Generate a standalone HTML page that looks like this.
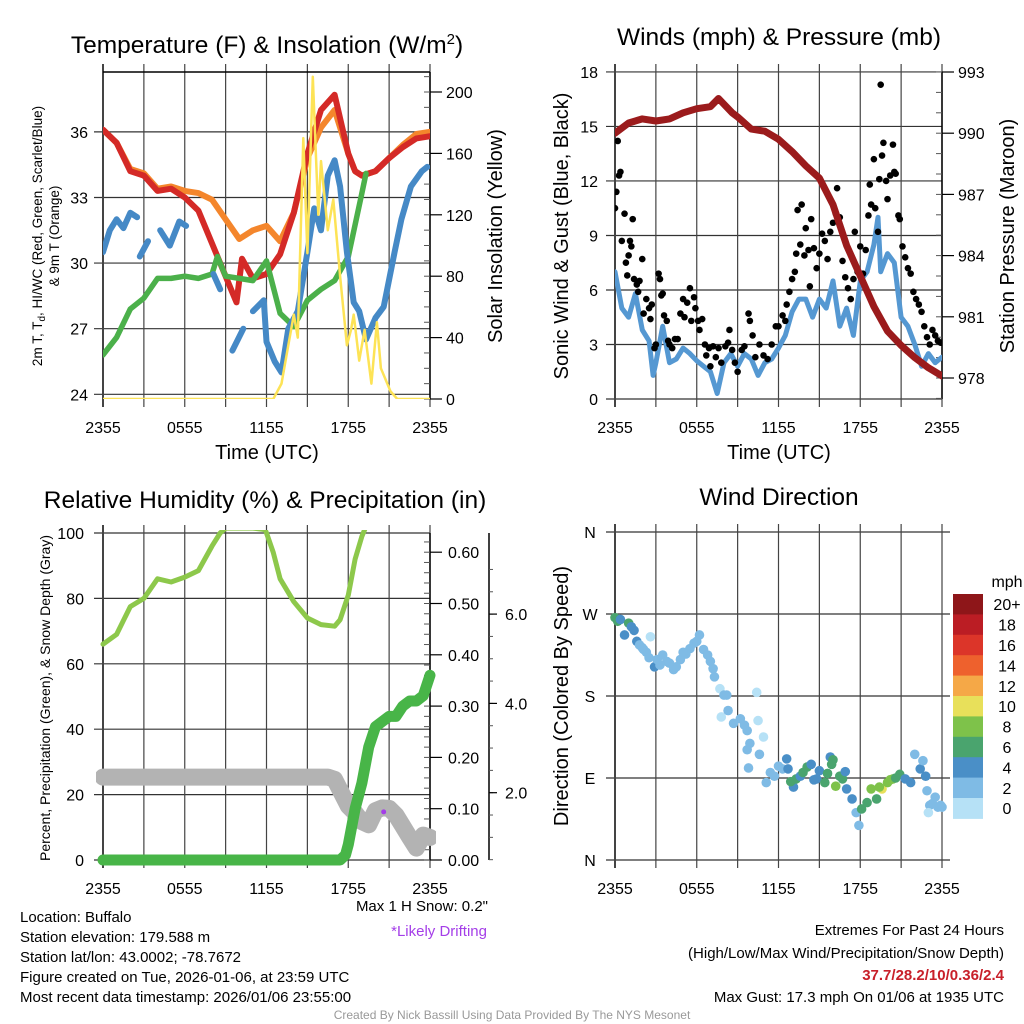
<!DOCTYPE html>
<html><head><meta charset="utf-8"><title>Mesonet Station Meteogram</title>
<style>
html,body{margin:0;padding:0;background:#fff;}
svg{display:block;font-family:"Liberation Sans",Arial,sans-serif;}
.tk{font-size:16px;fill:#000;}
.ttl{font-size:24.5px;fill:#000;}
.axt{font-size:20px;fill:#000;}
.info{font-size:15px;fill:#000;}
</style></head>
<body>
<svg id="chart" width="1024" height="1024" viewBox="0 0 1024 1024">
<defs>
<clipPath id="c1"><rect x="103" y="72" width="327" height="327"/></clipPath>
<clipPath id="c2"><rect x="615" y="72" width="327" height="327"/></clipPath>
<clipPath id="c3"><rect x="96" y="528" width="340" height="340"/></clipPath>
<clipPath id="c4"><rect x="608" y="526" width="341" height="341"/></clipPath>
</defs>
<rect width="1024" height="1024" fill="#fff"/>

<text class="ttl" x="267" y="53" text-anchor="middle">Temperature (F) &amp; Insolation (W/m<tspan dy="-9" font-size="15">2</tspan><tspan dy="9">)</tspan></text>
<text class="ttl" x="779" y="45" text-anchor="middle">Winds (mph) &amp; Pressure (mb)</text>
<text class="ttl" x="265" y="508" text-anchor="middle">Relative Humidity (%) &amp; Precipitation (in)</text>
<text class="ttl" x="779" y="505" text-anchor="middle">Wind Direction</text>

<g id="g1"></g>
<g id="g2"></g>
<g id="g3"></g>
<g id="g4"></g>

<text class="axt" x="267" y="459" text-anchor="middle">Time (UTC)</text>
<text class="axt" x="779" y="459" text-anchor="middle">Time (UTC)</text>
<text font-size="13.5" transform="translate(42,236) rotate(-90)" text-anchor="middle">2m T, T<tspan font-size="10" dy="3">d</tspan><tspan dy="-3">, HI/WC (Red, Green, Scarlet/Blue)</tspan></text>
<text font-size="13.5" transform="translate(59,236) rotate(-90)" text-anchor="middle">&amp; 9m T (Orange)</text>
<text class="axt" transform="translate(502,236) rotate(-90)" text-anchor="middle">Solar Insolation (Yellow)</text>
<text class="axt" transform="translate(568,236) rotate(-90)" text-anchor="middle">Sonic Wind &amp; Gust (Blue, Black)</text>
<text class="axt" transform="translate(1014,236) rotate(-90)" text-anchor="middle">Station Pressure (Maroon)</text>
<text font-size="14" transform="translate(50,698) rotate(-90)" text-anchor="middle">Percent, Precipitation (Green), &amp; Snow Depth (Gray)</text>
<text class="axt" transform="translate(568,696) rotate(-90)" text-anchor="middle">Direction (Colored By Speed)</text>

<g>
<text class="info" x="20" y="922">Location: Buffalo</text>
<text class="info" x="20" y="942">Station elevation: 179.588 m</text>
<text class="info" x="20" y="962">Station lat/lon: 43.0002; -78.7672</text>
<text class="info" x="20" y="982">Figure created on Tue, 2026-01-06, at 23:59 UTC</text>
<text class="info" x="20" y="1002">Most recent data timestamp: 2026/01/06 23:55:00</text>
</g>
<text class="info" x="488" y="911" text-anchor="end" fill="#333">Max 1 H Snow: 0.2"</text>
<text class="info" x="487" y="936" text-anchor="end" style="fill:#a43ee8">*Likely Drifting</text>
<g>
<text class="info" x="1004" y="935" text-anchor="end">Extremes For Past 24 Hours</text>
<text class="info" x="1004" y="958" text-anchor="end">(High/Low/Max Wind/Precipitation/Snow Depth)</text>
<text class="info" x="1004" y="980" text-anchor="end" font-weight="bold" style="fill:#c8202a">37.7/28.2/10/0.36/2.4</text>
<text class="info" x="1004" y="1002" text-anchor="end">Max Gust: 17.3 mph On 01/06 at 1935 UTC</text>
</g>
<text x="512" y="1019" font-size="12" text-anchor="middle" fill="#999">Created By Nick Bassill Using Data Provided By The NYS Mesonet</text>
</svg>

<script>
// ===== Panel 1 data =====
const redT = [0,1,2,3,4,5,6,7,8,9,9.8,10.2,11,12,13,14,15,16,17,18,18.5,19,20,21,22,23,24];
const redV = [36.1,35.5,34.2,34.0,33.3,33.4,33.0,32.4,30.9,29.4,28.2,30.2,29.3,29.5,30.4,32.3,35.0,37.0,37.7,35.0,34.2,34.0,34.2,34.8,35.3,35.7,35.8];
const orgT = [0,1,2,3,4,5,6,7,8,9,10,11,12,13,14,15,16,17,18,18.5,19,20,21,22,23,24];
const orgV = [36.1,35.5,34.3,34.1,33.4,33.5,33.3,33.2,32.9,32.0,31.1,31.5,31.7,31.0,32.3,34.8,36.2,37.0,35.0,34.2,34.0,34.2,34.8,35.4,35.9,36.0];
const dewT = [0,1,2,3,4,5,6,7,8,8.4,9,10,11,12,13,14,15,16,17,18,19,19.3];
const dewV = [25.8,26.6,27.9,28.4,29.3,29.3,29.4,29.3,29.5,30.3,29.4,29.3,29.2,30.1,27.7,27.1,28.3,28.8,29.2,30.3,33.2,34.1];
const wcT = [0,0.5,1,1.5,2,2.5,2.6,2.7,3.3,3.4,4.2,4.9,5.6,6.1,6.2,8.1,8.6,8.7,9.5,10.3,10.4,11.0,11.8,12.0,12.6,13.1,13.6,14.3,15.0,15.5,16.0,16.5,17.0,17.4,17.9,18.4,18.8,19.3,20.0,20.6,21.4,21.9,22.6,23.4,23.8];
const wcV = [30.5,31.5,32.0,31.6,32.3,32.1,null,30.3,31.0,null,31.5,30.8,31.9,31.7,null,29.5,28.8,null,26.0,27.0,null,27.8,28.3,26.4,25.5,25.0,27.0,27.8,30.5,32.5,31.5,34.0,34.7,33.5,30.5,28.2,27.8,26.5,27.5,28.0,30.5,32.0,33.5,34.2,34.4];
const solT = [0,12.5,13.1,13.6,14.0,14.3,14.7,15.0,15.4,15.8,16.0,16.5,16.9,17.4,17.9,18.2,18.4,18.8,19.2,19.7,20.1,20.4,21.1,21.6,24];
const solV = [0,0,10,35,55,40,170,95,210,120,155,110,130,80,35,45,55,25,45,10,50,20,5,0,0];
const p1LeftTicks = [24,27,30,33,36];
const p1RightTicks = [0,40,80,120,160,200];
const timeLabels = ["2355","0555","1155","1755","2355"];

// ===== Panel 2 data =====
const presT = [0,1,2,3,4,5,6,7,7.6,8.6,9,10,11,12,13,14,15,16,17,18,19,20,21,22,23,24];
const presV = [990.0,990.5,990.7,990.6,990.7,991.0,991.2,991.3,991.7,991.0,990.8,990.2,990.1,989.7,989.1,988.4,987.8,986.5,984.5,983.0,981.5,980.3,979.6,979.0,978.5,978.1];
const windT = [0,0.5,1,1.5,2,2.5,2.8,3,3.5,4,4.5,5,5.5,6,6.5,7,7.5,8,8.5,9,9.5,10,10.5,11,11.5,12,12.5,13,13.5,14,14.5,15,15.5,16,16.5,17,17.5,18,18.5,19,19.3,19.5,20,20.5,21,21.5,22,22.5,23,23.5,24];
const windV = [7.0,5.0,4.5,5.8,3.8,3.2,1.3,2.0,4.0,2.0,2.2,2.8,2.5,2.1,1.8,1.5,0.3,2.0,2.5,1.8,2.5,2.2,1.3,2.0,2.2,2.8,3.5,4.8,5.5,5.5,4.5,5.5,5.0,6.5,4.0,5.0,3.5,6.5,7.0,8.5,10.0,7.0,8.0,7.5,4.5,4.0,3.0,1.8,2.5,2.0,2.3];
const gustT = [0,0.1,0.2,0.3,0.4,0.5,0.7,0.8,0.9,1.0,1.1,1.2,1.3,1.4,1.6,1.7,1.8,2.0,2.1,2.3,2.5,2.6,2.7,2.9,3.0,3.2,3.3,3.4,3.5,3.6,3.8,3.9,4.0,4.2,4.4,4.6,4.8,5.0,5.1,5.3,5.5,5.6,5.8,5.9,6.1,6.2,6.4,6.6,6.7,6.9,7.0,7.2,7.4,7.6,7.8,8.1,8.3,8.4,8.6,8.8,9.0,9.3,9.5,9.8,9.9,10.1,10.3,10.6,10.9,11.2,11.5,11.8,12.0,12.3,12.5,12.6,12.8,13.0,13.2,13.3,13.4,13.6,13.7,13.9,14.0,14.2,14.3,14.4,14.6,14.8,15.0,15.2,15.4,15.6,15.8,16.0,16.2,16.3,16.5,16.7,16.9,17.1,17.3,17.5,17.6,17.8,18.0,18.2,18.4,18.6,18.7,18.8,19.0,19.1,19.3,19.4,19.5,19.6,19.7,19.9,20.0,20.2,20.4,20.5,20.6,20.8,20.9,21.1,21.3,21.5,21.7,21.9,22.1,22.3,22.5,22.7,22.9,23.1,23.3,23.5,23.7,23.9];
const gustV = [10.5,11.4,14.2,12.3,12.5,8.7,10.2,7.5,6.8,7.9,8.7,8.4,9.9,6.6,6.3,5.9,6.5,7.7,4.7,5.5,5.0,4.4,5.2,2.8,3.0,6.9,6.6,5.7,5.8,4.6,4.3,3.2,3.0,2.8,3.3,3.3,4.7,5.5,4.5,5.3,6.1,4.3,5.6,5.0,4.3,3.8,4.4,3.0,2.4,2.8,1.8,2.9,2.3,2.8,2.0,2.9,3.1,3.8,2.7,2.0,1.5,2.7,2.9,4.7,4.3,3.5,2.3,3.0,2.4,2.2,3.0,4.0,4.0,4.6,4.3,5.2,5.9,6.6,7.0,8.0,10.4,8.5,10.7,7.9,9.4,8.2,6.2,9.9,8.3,7.2,8.0,9.1,8.7,7.7,9.2,9.7,10.2,11.6,10.0,7.6,6.7,6.1,5.5,6.6,9.2,7.0,8.4,6.9,8.2,10.1,11.8,10.7,13.2,10.5,9.2,12.1,17.3,13.4,14.1,12.0,11.0,12.3,14.0,12.5,12.4,10.1,9.9,8.4,7.8,7.2,6.9,5.9,5.5,5.2,4.8,4.0,3.4,3.0,3.8,3.5,3.2,3.1];
const p2LeftTicks = [0,3,6,9,12,15,18];
const p2RightTicks = [978,981,984,987,990,993];

// ===== Panel 3 data =====
const rhT = [0,1,2,3,4,5,6,7,8,8.6,9,10,11,11.9,12,12.5,13,14,15,16,17,17.4,18,18.5,19,19.5,24];
const rhV = [66,69,77.5,80,86,85,86.5,88.5,96,100,101.5,101.5,101.5,101,100,94,86,79,74,72,71.5,73.5,81,92,99,104,104];
const precT = [0,17.4,17.8,18,18.5,19,19.5,20,20.5,21,21.5,22,22.5,23,23.5,24];
const precV = [0,0,0.01,0.03,0.10,0.15,0.22,0.26,0.27,0.28,0.28,0.30,0.31,0.31,0.32,0.36];
const snowT = [0,16.5,17,17.5,18,18.5,19,19.5,20,20.5,21,21.5,22,22.5,23,23.5,24];
const snowV = [2.35,2.35,2.3,2.0,1.7,1.55,1.35,1.28,1.6,1.66,1.65,1.5,1.25,1.0,0.76,1.05,1.0];
const driftT = [20.6];
const driftV = [1.57];
const p3LeftTicks = [0,20,40,60,80,100];
const p3PrecTicks = [0,0.1,0.2,0.3,0.4,0.5,0.6];
const p3PrecLabels = ["0.00","0.10","0.20","0.30","0.40","0.50","0.60"];
const p3SnowTicks = [2,4,6];
const p3SnowLabels = ["2.0","4.0","6.0"];

// ===== Panel 4 data =====
const dirT = [0,0.2,0.4,0.7,1,1.2,1.6,1.8,2.1,2.3,2.6,2.9,3.1,3.5,3.8,4.3,4.5,4.8,5.2,5.5,5.8,6.2,6.5,6.8,7,7.3,7.7,8,8.2,7.8,8.3,8.7,9.2,9.5,9.7,10.4,10.5,9.9,9.7,10.6,10.9,9.8,11.1,11.4,11.7,12.0,12.3,12.6,12.7,13.1,13.3,13.6,14.1,14.4,14.8,15.0,15.4,15.8,15.9,16.2,16.5,16.7,16.9,17.0,17.4,17.7,17.9,18.1,18.5,18.8,19.2,19.6,20.0,20.4,20.9,21.3,21.7,22.0,22.4,22.6,22.8,22.9,23.1,23.5,23.7,23.0,24.0,1.4,2.0,2.5,3.3,4.0,5.0,6.0,7.2,12.9,13.8,14.6,15.6,16.0,19.4,20.2,20.6,23.3,23.9];
const dirV = [266,262,264,247,260,256,240,236,231,228,245,212,220,225,218,209,212,220,226,232,238,247,231,225,218,201,188,181,181,157,164,150,155,148,142,184,153,128,121,116,135,101,85,96,92,103,100,111,100,80,89,92,102,105,89,98,85,113,105,81,92,89,97,78,67,52,38,56,63,78,67,78,85,89,94,89,85,116,100,109,92,76,60,69,58,52,58,252,233,222,214,216,228,240,210,86,96,88,95,110,80,88,90,62,60];
const dirS = [6,6,4,4,6,4,4,3,2,2,1,4,2,2,2,2,2,2,2,2,2,2,2,2,2,2,1,2,2,1,2,2,3,2,2,1,1,2,2,2,1,2,2,2,2,2,3,4,4,4,6,5,6,4,4,4,6,4,6,8,6,6,4,4,4,2,2,6,6,8,6,10,8,8,6,4,4,2,4,2,4,2,2,2,2,0,2,4,2,2,2,2,2,2,2,6,6,4,6,6,8,8,6,2,2];
const speedBinLabels = ["0","2","4","6","8","10","12","14","16","18","20+"];
const speedBinColors = ["#b6e1f6","#7fbbe5","#4a8fc7","#4aa46e","#7ec24a","#e8e05a","#f5a847","#ee612d","#dc3529","#bb1d24","#8e1619"];
const dirTicks = [0,90,180,270,360];
const dirLabels = ["N","E","S","W","N"];

const NS = "http://www.w3.org/2000/svg";
function mk(tag, attrs, parent){const e=document.createElementNS(NS,tag);for(const k in attrs)e.setAttribute(k,attrs[k]);parent.appendChild(e);return e;}
function pathD(ts, vs, fx, fy){let d="",pen=false;for(let i=0;i<ts.length;i++){if(vs[i]===null){pen=false;continue;}d+=(pen?"L":"M")+fx(ts[i]).toFixed(1)+","+fy(vs[i]).toFixed(1);pen=true;}return d;}

function frame(g, x0, y0, w, h, withTimeLabels){
  const xs = t => x0 + t*w/24;
  for(let t=0;t<=24;t+=3){
    const l = mk("line",{x1:xs(t),x2:xs(t),y1:y0-8,y2:y0+h+8,stroke:"#444","stroke-width":(t===0?2:1.2)},g);
    
    
  }
  if(withTimeLabels){
    for(let i=0;i<timeLabels.length;i++){
      const tx = mk("text",{x:xs(i*6),y:y0+h+34,"text-anchor":"middle",class:"tk"},g);
      tx.textContent = timeLabels[i];
      
      
    }
  }
  return xs;
}
function hgrid(g, x0, w, y, label, lx){
  const l = mk("line",{x1:x0-9,x2:x0+w,y1:y,y2:y,stroke:"#333","stroke-width":1.2},g);
  
  
  if(label!==null){
    const tx = mk("text",{x:lx,y:y+6,"text-anchor":"end",class:"tk"},g);
    tx.textContent = label;
    
    
  }
}
function rightAxis(g, x, yTop, yBot, ticks, labels, fy, minorStep, lo, hi, lx, outward){
  const ax = mk("line",{x1:x,x2:x,y1:yTop,y2:yBot,stroke:"#000","stroke-width":1.5},g);
  
  
  for(let v=lo; v<=hi+1e-9; v+=minorStep){
    const y=fy(v); if(y<yTop-0.5||y>yBot+0.5) continue;
    mk("line",{x1:x-(outward?0:6),x2:x+(outward?6:0),y1:y,y2:y,stroke:"#555","stroke-width":1},g);
  }
  for(let i=0;i<ticks.length;i++){
    const y=fy(ticks[i]);
    mk("line",{x1:x,x2:x+12,y1:y,y2:y,stroke:"#000","stroke-width":1.2},g);
    const tx = mk("text",{x:lx,y:y+6,"text-anchor":"start",class:"tk"},g);
    tx.textContent = labels[i];
    
    
  }
}

// ===== Panel 1 =====
(function(){
  const g=document.getElementById("g1");
  const X0=103,Y0=72,W=327,H=327;
  const fy = v => 394.3 - (v-24)*21.87;
  const fs = v => 399 - v*1.535;
  p1LeftTicks.forEach(v=>hgrid(g,X0,W,fy(v),String(v),88));
  const xs = frame(g,X0,Y0,W,H,true);
  mk("line",{x1:X0,x2:X0+W,y1:Y0,y2:Y0,stroke:"#000","stroke-width":1.5},g);
  rightAxis(g,X0+W,Y0,Y0+H,p1RightTicks,p1RightTicks.map(String),fs,10,0,210,446,false);
  const c=mk("g",{"clip-path":"url(#c1)"},g);
  const s1=mk("path",{d:pathD(orgT,orgV,xs,fy),fill:"none",stroke:"#f4862c","stroke-width":6,"stroke-linejoin":"round","stroke-linecap":"round"},c);
  
  
  const s2=mk("path",{d:pathD(redT,redV,xs,fy),fill:"none",stroke:"#d42a27","stroke-width":6,"stroke-linejoin":"round","stroke-linecap":"round"},c);
  
  
  const s3=mk("path",{d:pathD(dewT,dewV,xs,fy),fill:"none",stroke:"#4bb04a","stroke-width":5.5,"stroke-linejoin":"round","stroke-linecap":"round"},c);
  
  
  const s4=mk("path",{d:pathD(wcT,wcV,xs,fy),fill:"none",stroke:"#4589c6","stroke-width":6,"stroke-linejoin":"round","stroke-linecap":"round"},c);
  
  
  const s5=mk("path",{d:pathD(solT,solV,xs,fs),fill:"none",stroke:"#fde356","stroke-width":2.5,"stroke-linejoin":"round"},c);
  
  
})();

// ===== Panel 2 =====
(function(){
  const g=document.getElementById("g2");
  const X0=615,Y0=72,W=327,H=327;
  const fy = v => 399 - v*18.17;
  const fp = v => 378 - (v-978)*20.4;
  p2LeftTicks.forEach(v=>hgrid(g,X0,W,fy(v),String(v),598));
  const xs = frame(g,X0,Y0,W,H,true);
  rightAxis(g,X0+W,Y0,Y0+H,p2RightTicks,p2RightTicks.map(String),fp,1,977,993,958,false);
  const c=mk("g",{"clip-path":"url(#c2)"},g);
  const w=mk("path",{d:pathD(windT,windV,xs,fy),fill:"none",stroke:"#5598d2","stroke-width":5,"stroke-linejoin":"round","stroke-linecap":"round"},c);
  
  
  for(let i=0;i<gustT.length;i++){
    const d=mk("circle",{cx:xs(gustT[i]),cy:fy(gustV[i]),r:3.3,fill:"#000"},c);
    
    
  }
  const p=mk("path",{d:pathD(presT,presV,xs,fp),fill:"none",stroke:"#9b1b1c","stroke-width":7,"stroke-linejoin":"round","stroke-linecap":"round"},c);
  
  
})();

// ===== Panel 3 =====
(function(){
  const g=document.getElementById("g3");
  const X0=103,Y0=533,W=327,H=327;
  const fy = v => 860 - v*3.27;
  const fpr = v => 860 - v*513;
  const fsn = v => 882 - v*44.65;
  p3LeftTicks.forEach(v=>hgrid(g,X0,W,fy(v),String(v),84));
  const xs = frame(g,X0,Y0,W,H,true);
  rightAxis(g,X0+W,Y0,Y0+H,p3PrecTicks,p3PrecLabels,fpr,0.02,0,0.64,448,false);
  mk("line",{x1:489,x2:489,y1:Y0,y2:Y0+H,stroke:"#000","stroke-width":1.5},g);
  for(let v=0.5;v<=7.4;v+=0.5){const y=fsn(v);if(y<Y0||y>Y0+H)continue;mk("line",{x1:489,x2:493,y1:y,y2:y,stroke:"#555","stroke-width":1},g);}
  for(let i=0;i<p3SnowTicks.length;i++){
    const y=fsn(p3SnowTicks[i]);
    mk("line",{x1:489,x2:497,y1:y,y2:y,stroke:"#000","stroke-width":1.2},g);
    const tx=mk("text",{x:505,y:y+6,class:"tk"},g);
    tx.textContent=p3SnowLabels[i];
    
    
  }
  const c=mk("g",{"clip-path":"url(#c3)"},g);
  const sn=mk("path",{d:pathD(snowT,snowV,xs,fsn),fill:"none",stroke:"#b3b3b3","stroke-width":17,"stroke-linejoin":"round","stroke-linecap":"round"},c);
  
  
  const pr=mk("path",{d:pathD(precT,precV,xs,fpr),fill:"none",stroke:"#48b548","stroke-width":11,"stroke-linejoin":"round","stroke-linecap":"round"},c);
  
  
  const cp=document.createElementNS(NS,"clipPath");cp.setAttribute("id","c3rh");
  mk("rect",{x:96,y:Y0-3,width:340,height:H+10},cp);document.querySelector("defs").appendChild(cp);
  const rh=mk("path",{d:pathD(rhT,rhV,xs,fy),fill:"none",stroke:"#8dc84b","stroke-width":5,"stroke-linejoin":"round","stroke-linecap":"round","clip-path":"url(#c3rh)"},g);
  
  
  for(let i=0;i<driftT.length;i++){
    const d=mk("circle",{cx:xs(driftT[i]),cy:fsn(driftV[i]),r:2.5,fill:"#a43ee8"},g);
    
    
  }
})();

// ===== Panel 4 =====
(function(){
  const g=document.getElementById("g4");
  const X0=615,Y0=532,W=327,H=328;
  const fy = v => 860 - v*0.9111;
  for(let i=0;i<dirTicks.length;i++){
    const y=fy(dirTicks[i]);
    const l=mk("line",{x1:X0-9,x2:X0+W+8,y1:y,y2:y,stroke:"#333","stroke-width":1.2},g);
    
    
    const tx=mk("text",{x:590,y:y+6,"text-anchor":"middle",class:"tk"},g);
    tx.textContent=dirLabels[i];
    
    
  }
  const xs=frame(g,X0,Y0,W,H,true);
  const c=mk("g",{"clip-path":"url(#c4)"},g);
  for(let i=0;i<dirT.length;i++){
    const bin=Math.min(10,Math.floor(dirS[i]/2));
    const d=mk("circle",{cx:xs(dirT[i]),cy:fy(dirV[i]),r:4.8,fill:speedBinColors[bin]},c);
    
    
  }
  const top=594, bh=20.4;
  const mph=mk("text",{x:1007,y:587,"text-anchor":"middle",class:"tk"},g);
  mph.textContent="mph";
  
  
  for(let i=0;i<speedBinLabels.length;i++){
    const k=speedBinLabels.length-1-i;
    const r=mk("rect",{x:953,y:top+i*bh,width:30,height:bh+0.5,fill:speedBinColors[k]},g);
    
    
    const tx=mk("text",{x:1007,y:top+i*bh+bh/2+6,"text-anchor":"middle",class:"tk"},g);
    tx.textContent=speedBinLabels[k];
    
    
  }
})();
</script>
</body></html>
